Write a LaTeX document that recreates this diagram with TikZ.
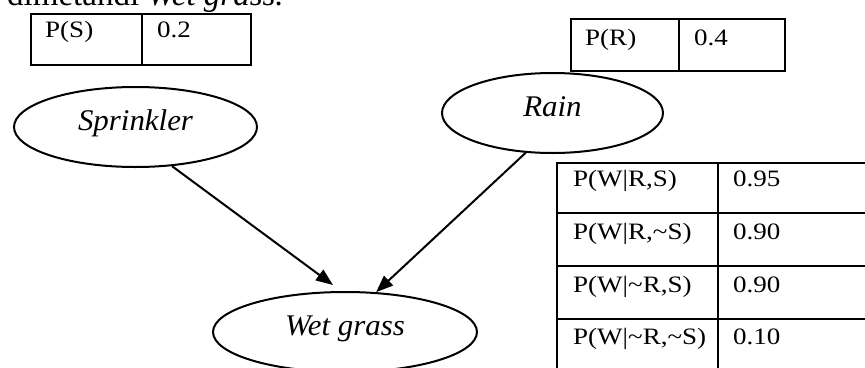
\documentclass[tikz,border=0pt]{standalone}
\usepackage{fontspec}
\setmainfont{Liberation Serif}
\newfontfamily\tabfont[FakeStretch=1.15]{Liberation Serif}
\newfontfamily\elfont[FakeStretch=1.03]{Liberation Serif}
\usetikzlibrary{shapes.geometric,arrows.meta}
\begin{document}
\begin{tikzpicture}[x=1pt,y=-1pt,
  grid/.style={line width=2pt},
  cell/.style={anchor=base west,inner sep=0pt,font=\tabfont\fontsize{23.5}{23.5}\selectfont},
  var/.style={draw,ellipse,line width=2pt,inner sep=0pt,text height=0.66em,text depth=0pt,
    font=\elfont\itshape\fontsize{30}{30}\selectfont},
  edge/.style={line width=2pt,-{Triangle[length=17pt,width=13pt]}}]
\useasboundingbox (0,0) rectangle (865,367);
% clipped line of text at the top
\node[anchor=base west,inner sep=0pt,font=\fontsize{33}{33}\selectfont] (toptext) at (7,5) {dimetandi \textit{Wet grass.}};
% P(S) table
\draw[grid] (31,14) rectangle (251,65);
\draw[grid] (142,14) -- (142,65);
\node[cell] (ps) at (45,37) {P(S)};
\node[cell] (psv) at (157,37) {0.2};
% P(R) table
\draw[grid] (571,19) rectangle (785,71);
\draw[grid] (679,19) -- (679,71);
\node[cell] (pr) at (585,45) {P(R)};
\node[cell] (prv) at (694,45) {0.4};
% P(W|R,S) table
\draw[grid] (870,163) -- (557,163) -- (557,370);
\draw[grid] (718,163) -- (718,370);
\foreach \yy in {213,266,319} \draw[grid] (557,\yy) -- (870,\yy);
\node[cell] (w1) at (573,186) {P(W|R,S)};
\node[cell] (w1v) at (733,186) {0.95};
\node[cell] (w2) at (573,239) {P(W|R,\textasciitilde S)};
\node[cell] (w2v) at (733,239) {0.90};
\node[cell] (w3) at (573,292) {P(W|\textasciitilde R,S)};
\node[cell] (w3v) at (733,292) {0.90};
\node[cell] (w4) at (573,344) {P(W|\textasciitilde R,\textasciitilde S)};
\node[cell] (w4v) at (733,344) {0.10};
% network
\node[var,minimum width=243pt,minimum height=80pt] (spr) at (135.5,127) {Sprinkler};
\node[var,minimum width=221pt,minimum height=80pt] (rain) at (552.5,113) {Rain};
\node[var,minimum width=264pt,minimum height=80pt] (wet) at (345,332) {Wet grass};
\draw[edge] (spr.-47) -- ([xshift=-12pt,yshift=6pt]wet.north);
\draw[edge] (rain.-124) -- (wet.52);
\end{tikzpicture}
\end{document}
